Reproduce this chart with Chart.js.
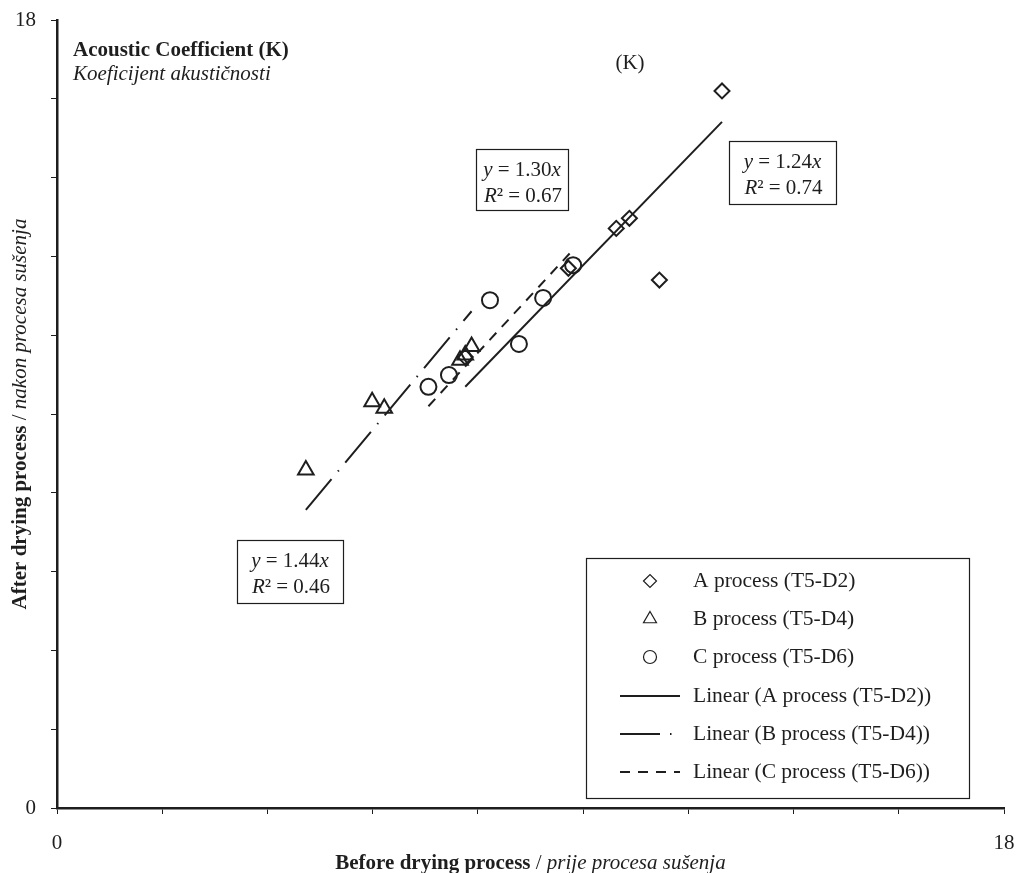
<!DOCTYPE html>
<html>
<head>
<meta charset="utf-8">
<script src="https://cdn.jsdelivr.net/npm/chart.js@4.4.1/dist/chart.umd.min.js"></script>
<style>
  body { margin: 0; background: #fff; }
  canvas { display: block; }
</style>
</head>
<body>
<canvas id="chart" width="1018" height="873"></canvas>
<script>
// data
const aX = [12.64, 10.88, 10.63, 11.45, 9.72, 7.76];
const aY = [16.38, 13.47, 13.24, 12.06, 12.33, 10.30];
const bX = [4.73, 5.99, 6.22, 7.88, 7.76, 7.66];
const bY = [7.72, 9.28, 9.13, 10.54, 10.35, 10.23];
const cX = [7.06, 7.45, 8.23, 8.78, 9.24, 9.81];
const cY = [9.62, 9.89, 11.60, 10.60, 11.65, 12.40];

const seriesNames = ["A process (T5-D2)", "B process (T5-D4)", "C process (T5-D6)"];
const slopes = [1.24, 1.44, 1.30];
const rSquared = ["0.74", "0.46", "0.67"];
const xTickLabels = [0, 18];
const yTickLabels = [0, 18];

const ink = "#1e1e1e";
const serif = "'Liberation Serif', 'Times New Roman', serif";

function pts(xs, ys) {
  return xs.map((x, i) => ({ x: x, y: ys[i] }));
}

// trendline through origin over the range of the series
function trend(xs, k) {
  const lo = Math.min(...xs);
  const hi = Math.max(...xs);
  return [{ x: lo, y: k * lo }, { x: hi, y: k * hi }];
}

const markerStyles = ["rectRot", "triangle", "circle"];
const markerRadius = [7.5, 9, 8];
const legendRadius = [6.5, 7.5, 6.5];
const dashes = [[], [40, 10, 1.5, 10], [10, 8]];

function drawRich(ctx, parts, x, y, size) {
  // parts: [text, style]
  let total = 0;
  parts.forEach(p => {
    ctx.font = p[1] + " " + size + "px " + serif;
    total += ctx.measureText(p[0]).width;
  });
  let cx = x - total / 2;
  parts.forEach(p => {
    ctx.font = p[1] + " " + size + "px " + serif;
    ctx.fillText(p[0], cx, y);
    cx += ctx.measureText(p[0]).width;
  });
}

const decor = {
  id: "decor",
  afterDraw(chart) {
    const ctx = chart.ctx;
    const area = chart.chartArea;
    ctx.save();
    ctx.fillStyle = ink;
    ctx.textBaseline = "alphabetic";
    ctx.textAlign = "left";

    // axis titles
    drawRich(ctx, [["Before drying process", "bold"], [" / ", "normal"], ["prije procesa sušenja", "italic"]],
      (area.left + area.right) / 2, 869, 21);
    ctx.save();
    ctx.translate(26, (area.top + area.bottom) / 2);
    ctx.rotate(-Math.PI / 2);
    drawRich(ctx, [["After drying process", "bold"], [" / ", "normal"], ["nakon procesa sušenja", "italic"]], 0, 0, 21);
    ctx.restore();

    // inner titles
    ctx.font = "bold 21px " + serif;
    ctx.fillText("Acoustic Coefficient (K)", 73, 56);
    ctx.font = "italic 21px " + serif;
    ctx.fillText("Koeficijent akustičnosti", 73, 80);
    ctx.textAlign = "center";
    ctx.font = "21px " + serif;
    ctx.fillText("(K)", 630, 69);
    ctx.textAlign = "left";

    // equation boxes
    const boxes = [
      { i: 0, x: 729, y: 141, w: 107, h: 63 },
      { i: 1, x: 237, y: 540, w: 106, h: 63 },
      { i: 2, x: 476, y: 149, w: 92, h: 61 }
    ];
    boxes.forEach(b => {
      ctx.fillStyle = "#fff";
      ctx.fillRect(b.x, b.y, b.w, b.h);
      ctx.strokeStyle = ink;
      ctx.lineWidth = 1.2;
      ctx.strokeRect(b.x + 0.5, b.y + 0.5, b.w, b.h);
      ctx.fillStyle = ink;
      const cxb = b.x + b.w / 2;
      drawRich(ctx, [["y", "italic"], [" = " + slopes[b.i].toFixed(2), "normal"], ["x", "italic"]], cxb, b.y + 27, 21);
      drawRich(ctx, [["R", "italic"], ["² = " + rSquared[b.i], "normal"]], cxb + 1, b.y + 53, 21);
    });

    // legend
    const lx = 586, ly = 558, lw = 383, lh = 240;
    ctx.fillStyle = "#fff";
    ctx.fillRect(lx, ly, lw, lh);
    ctx.strokeStyle = ink;
    ctx.lineWidth = 1.2;
    ctx.strokeRect(lx + 0.5, ly + 0.5, lw, lh);
    const rows = [581, 619, 657, 696, 734, 772];
    const labels = seriesNames.concat(seriesNames.map(n => "Linear (" + n + ")"));
    labels.forEach((lab, r) => {
      const yy = rows[r];
      ctx.strokeStyle = ink;
      ctx.fillStyle = "rgba(0,0,0,0)";
      if (r < 3) {
        Chart.helpers.drawPoint(ctx, { pointStyle: markerStyles[r], radius: legendRadius[r], borderWidth: 2, rotation: 0 }, 650, yy);
      } else {
        ctx.save();
        ctx.lineWidth = 2;
        ctx.setLineDash(dashes[r - 3]);
        ctx.beginPath();
        ctx.moveTo(620, yy);
        ctx.lineTo(680, yy);
        ctx.stroke();
        ctx.restore();
      }
      ctx.fillStyle = ink;
      ctx.font = "21.5px " + serif;
      ctx.textBaseline = "middle";
      ctx.fillText(lab, 693, yy);
      ctx.textBaseline = "alphabetic";
    });
    ctx.restore();
  }
};

const pointSets = [pts(aX, aY), pts(bX, bY), pts(cX, cY)];
const trendSets = [trend(aX, slopes[0]), trend(bX, slopes[1]), trend(cX, slopes[2])];

const datasets = [];
trendSets.forEach((d, i) => {
  datasets.push({
    label: "Linear (" + seriesNames[i] + ")",
    data: d,
    showLine: true,
    pointRadius: 0,
    borderColor: ink,
    borderWidth: 2,
    borderDash: dashes[i],
    fill: false
  });
});
pointSets.forEach((d, i) => {
  datasets.push({
    label: seriesNames[i],
    data: d,
    pointStyle: markerStyles[i],
    pointRadius: markerRadius[i],
    pointBorderWidth: 2,
    pointBorderColor: ink,
    pointBackgroundColor: "rgba(0,0,0,0)",
    borderColor: ink,
    showLine: false
  });
});

function onlyEnds(list) {
  return function (v) {
    return list.some(t => Math.abs(v - t) < 1e-6) ? String(Math.round(v)) : "";
  };
}

new Chart(document.getElementById("chart"), {
  type: "scatter",
  data: { datasets: datasets },
  options: {
    responsive: false,
    animation: false,
    layout: { padding: { left: 0, right: 14, top: 20, bottom: 0 } },
    plugins: { legend: { display: false }, tooltip: { enabled: false } },
    scales: {
      x: {
        type: "linear",
        min: 0,
        max: 18,
        ticks: { stepSize: 2, autoSkip: false, maxRotation: 0, padding: 17, color: ink,
          font: { family: serif, size: 21 }, callback: onlyEnds(xTickLabels) },
        grid: { drawOnChartArea: false, drawTicks: true, tickLength: 6, color: ink, lineWidth: 1 },
        border: { display: true, color: ink, width: 2.5 },
        afterFit: s => { s.height = 65; s.paddingLeft = 0; s.paddingRight = 0; }
      },
      y: {
        type: "linear",
        min: 0,
        max: 18,
        ticks: { stepSize: 1.8, autoSkip: false, padding: 15, color: ink,
          font: { family: serif, size: 21 }, callback: onlyEnds(yTickLabels) },
        grid: { drawOnChartArea: false, drawTicks: true, tickLength: 6, color: ink, lineWidth: 1 },
        border: { display: true, color: ink, width: 2.5 },
        afterFit: s => { s.width = 57; s.paddingTop = 0; s.paddingBottom = 0; }
      }
    }
  },
  plugins: [decor]
});
</script>
</body>
</html>
